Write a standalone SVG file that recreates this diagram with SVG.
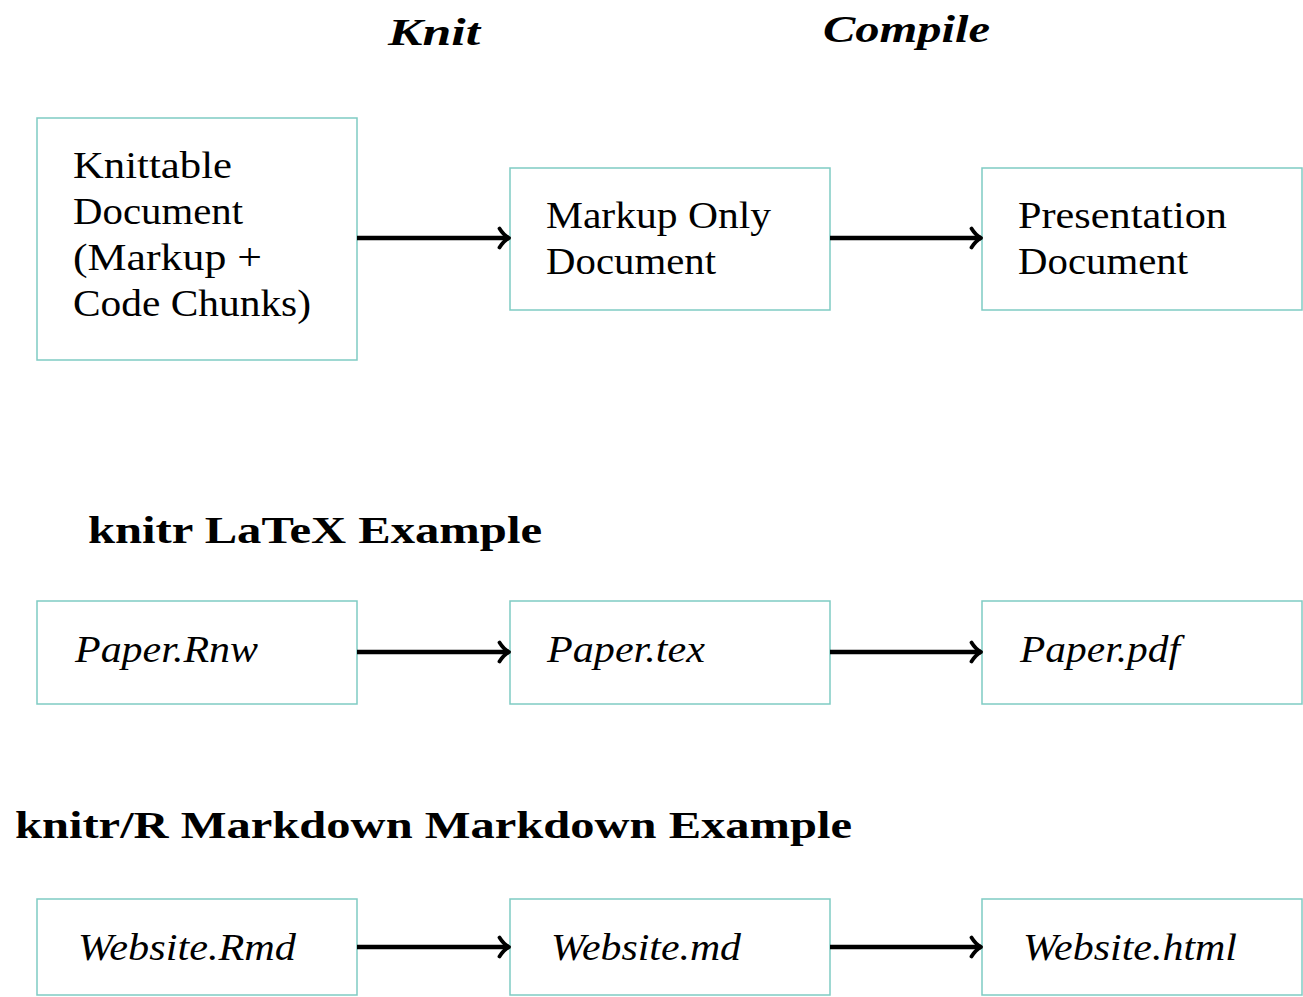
<svg xmlns="http://www.w3.org/2000/svg" width="1303" height="997" viewBox="0 0 1303 997">
<defs>
<style>
.box{fill:#ffffff;stroke:#7fcbc3;stroke-width:1.5}
.t{font-family:"Liberation Serif","Times New Roman",serif;font-size:38.5px;fill:#000}
.it{font-style:italic}
.b{font-weight:bold}
.conn{stroke:#000;stroke-width:4.5;fill:none;marker-end:url(#arr)}
</style>
<marker id="arr" markerUnits="userSpaceOnUse" viewBox="0 0 14 24" refX="12.5" refY="12" markerWidth="14" markerHeight="24" orient="auto">
<path d="M3,2.5 Q7,9 12.5,12 Q7,15 3,21.5" stroke="#000" stroke-width="3.8" fill="none" stroke-linecap="round" stroke-linejoin="round"/>
</marker>
</defs>
<rect width="1303" height="997" fill="#ffffff"/>

<g id="labels">
<text class="t b it" x="388" y="45" textLength="92" lengthAdjust="spacingAndGlyphs">Knit</text>
<text class="t b it" x="823" y="42" textLength="167" lengthAdjust="spacingAndGlyphs">Compile</text>
<text class="t b" x="88" y="543" textLength="454" lengthAdjust="spacingAndGlyphs">knitr LaTeX Example</text>
<text class="t b" x="15" y="838" textLength="837" lengthAdjust="spacingAndGlyphs">knitr/R Markdown Markdown Example</text>
</g>

<g id="knittable">
<rect class="box" x="37" y="118" width="320" height="242"/>
<text class="t" x="73" y="178" textLength="159" lengthAdjust="spacingAndGlyphs">Knittable</text>
<text class="t" x="73" y="224" textLength="170" lengthAdjust="spacingAndGlyphs">Document</text>
<text class="t" x="73" y="270" textLength="189" lengthAdjust="spacingAndGlyphs">(Markup +</text>
<text class="t" x="73" y="316" textLength="238" lengthAdjust="spacingAndGlyphs">Code Chunks)</text>
</g>
<g id="markup">
<rect class="box" x="510" y="168" width="320" height="142"/>
<text class="t" x="546" y="228" textLength="225" lengthAdjust="spacingAndGlyphs">Markup Only</text>
<text class="t" x="546" y="274" textLength="170" lengthAdjust="spacingAndGlyphs">Document</text>
</g>
<g id="presentation">
<rect class="box" x="982" y="168" width="320" height="142"/>
<text class="t" x="1018" y="228" textLength="209" lengthAdjust="spacingAndGlyphs">Presentation</text>
<text class="t" x="1018" y="274" textLength="170" lengthAdjust="spacingAndGlyphs">Document</text>
</g>

<g id="rnw">
<rect class="box" x="37" y="601" width="320" height="103"/>
<text class="t it" x="75" y="662" textLength="183" lengthAdjust="spacingAndGlyphs">Paper.Rnw</text>
</g>
<g id="tex">
<rect class="box" x="510" y="601" width="320" height="103"/>
<text class="t it" x="547" y="662" textLength="158" lengthAdjust="spacingAndGlyphs">Paper.tex</text>
</g>
<g id="pdf">
<rect class="box" x="982" y="601" width="320" height="103"/>
<text class="t it" x="1020" y="662" textLength="160" lengthAdjust="spacingAndGlyphs">Paper.pdf</text>
</g>

<g id="rmd">
<rect class="box" x="37" y="899" width="320" height="96"/>
<text class="t it" x="78" y="960" textLength="218" lengthAdjust="spacingAndGlyphs">Website.Rmd</text>
</g>
<g id="md">
<rect class="box" x="510" y="899" width="320" height="96"/>
<text class="t it" x="551" y="960" textLength="190" lengthAdjust="spacingAndGlyphs">Website.md</text>
</g>
<g id="html">
<rect class="box" x="982" y="899" width="320" height="96"/>
<text class="t it" x="1023" y="960" textLength="214" lengthAdjust="spacingAndGlyphs">Website.html</text>
</g>

<g id="connectors">
<line class="conn" x1="357" y1="238" x2="509" y2="238"/>
<line class="conn" x1="830" y1="238" x2="981" y2="238"/>
<line class="conn" x1="357" y1="652" x2="509" y2="652"/>
<line class="conn" x1="830" y1="652" x2="981" y2="652"/>
<line class="conn" x1="357" y1="947" x2="509" y2="947"/>
<line class="conn" x1="830" y1="947" x2="981" y2="947"/>
</g>
</svg>
